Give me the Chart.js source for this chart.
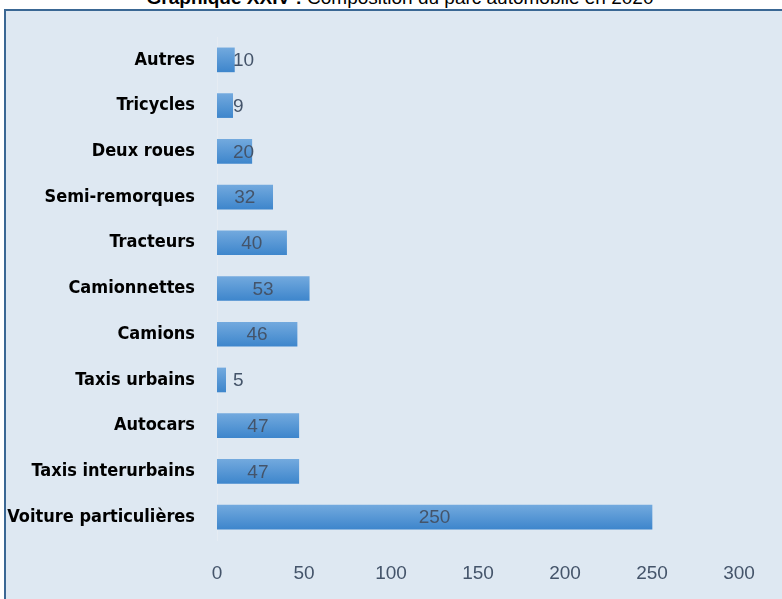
<!DOCTYPE html>
<html>
<head>
<meta charset="utf-8">
<script src="https://cdn.jsdelivr.net/npm/chart.js@4/dist/chart.umd.min.js"></script>
<style>
  html, body { margin: 0; padding: 0; background: #fff; overflow: hidden; }
  #wrap { position: relative; width: 782px; height: 599px; }
  #frame { position: absolute; left: 4px; top: 9px; width: 800px; height: 620px;
           background: #DEE8F2; border: 2px solid #3A6794; box-sizing: border-box; }
  #title { position: absolute; left: 0; width: 800px; top: -12px; text-align: center;
           font: 19px/19px "Liberation Sans", Arial, sans-serif; color: #000; white-space: nowrap; }
  #title b { font-weight: bold; }
  canvas { position: absolute; left: 0; top: 0; }
</style>
</head>
<body>
<div id="wrap">
  <div id="frame"></div>
  <div id="title"><b>Graphique XXIV :</b> Composition du parc automobile en 2020</div>
  <canvas id="myChartParc" width="782" height="599"></canvas>
</div>
<script>
const categories = ['Autres', 'Tricycles', 'Deux roues', 'Semi-remorques', 'Tracteurs', 'Camionnettes',
                    'Camions', 'Taxis urbains', 'Autocars', 'Taxis interurbains', 'Voiture particulières'];
const vehicules = [10, 9, 20, 32, 40, 53, 46, 5, 47, 47, 250];
const xTicks = [0, 50, 100, 150, 200, 250, 300];

const labelFont = '19px "Liberation Sans", Arial, sans-serif';

// valeurs dans les barres (poussées à droite quand la barre est trop courte)
const valueLabels = {
    id: 'valueLabels',
    afterDatasetsDraw(chart) {
        const c = chart.ctx;
        const meta = chart.getDatasetMeta(0);
        const x0 = chart.scales.x.getPixelForValue(0);
        c.save();
        c.font = labelFont;
        c.fillStyle = '#44546A';
        c.textBaseline = 'middle';
        c.textAlign = 'center';
        meta.data.forEach((bar, i) => {
            const txt = String(vehicules[i]);
            const w = c.measureText(txt).width;
            let cx = (x0 + bar.x) / 2;
            if (cx - w / 2 < x0 + 16) cx = x0 + 16 + w / 2;
            c.fillText(txt, cx, bar.y + 1);
        });
        c.restore();
    }
};

const ctx = document.getElementById('myChartParc');
new Chart(ctx, {
    type: 'bar',
    data: {
        labels: categories,
        datasets: [{
            data: vehicules,
            backgroundColor: (context) => {
                const chart = context.chart;
                const ys = chart.scales && chart.scales.y;
                if (!ys || context.dataIndex === undefined) return '#5B9BD5';
                const yc = ys.getPixelForValue(context.dataIndex);
                if (!isFinite(yc)) return '#5B9BD5';
                const g = chart.ctx.createLinearGradient(0, yc - 12, 0, yc + 12);
                g.addColorStop(0, '#72A9DE');
                g.addColorStop(1, '#3E86CC');
                return g;
            },
            borderWidth: 0,
            barThickness: 24
        }]
    },
    options: {
        indexAxis: 'y',
        responsive: false,
        animation: false,
        layout: { padding: { top: 37, right: 43, bottom: 16, left: 0 } },
        plugins: {
            legend: { display: false },
            tooltip: { enabled: false },
            title: { display: false }
        },
        scales: {
            x: {
                min: 0,
                max: 300,
                afterBuildTicks: (scale) => { scale.ticks = xTicks.map(v => ({ value: v })); },
                afterFit: (scale) => { scale.height = 43; },
                grid: { display: false, drawTicks: false },
                border: { display: false },
                ticks: { color: '#44546A', font: { family: '"Liberation Sans", Arial, sans-serif', size: 19 }, padding: 22 }
            },
            y: {
                grid: { display: false, drawTicks: false },
                border: { display: true, color: '#E6ECF3', width: 1 },
                afterFit: (scale) => { scale.width = 217; },
                ticks: {
                    color: '#000',
                    font: { family: '"DejaVu Sans Condensed", "DejaVu Sans", sans-serif', size: 18, weight: 'bold' },
                    padding: 22
                }
            }
        }
    },
    plugins: [valueLabels]
});
</script>
</body>
</html>
